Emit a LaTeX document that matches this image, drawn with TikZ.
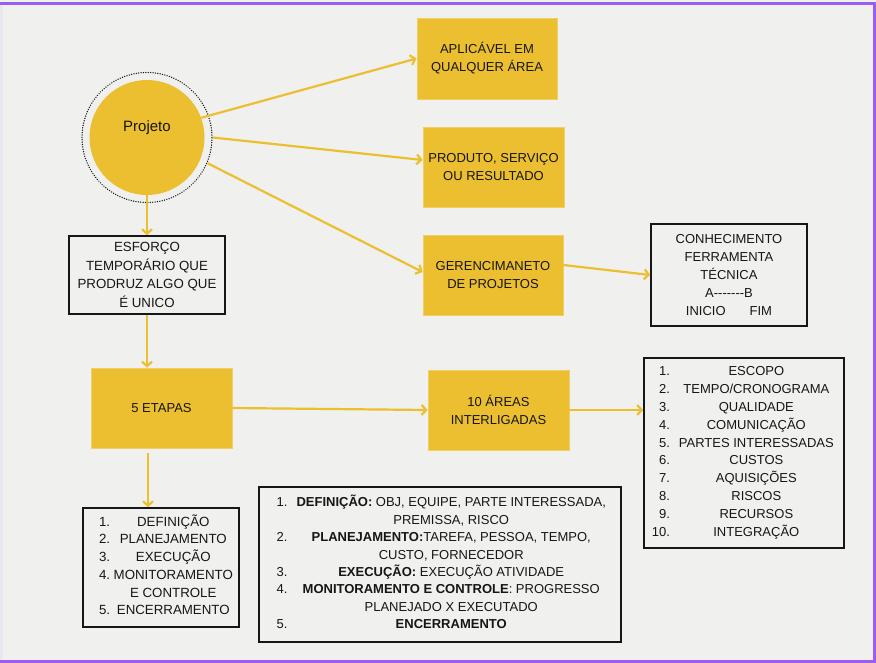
\documentclass[tikz,border=0pt]{standalone}
\usepackage{fontspec}
\setmainfont{Liberation Sans}
\usetikzlibrary{arrows.meta,calc}
\definecolor{bgc}{RGB}{240,240,238}
\definecolor{ylw}{RGB}{236,191,48}
\definecolor{purp}{HTML}{9B5DF0}
\definecolor{ink}{RGB}{22,22,22}
\definecolor{leftstrip}{RGB}{232,232,238}
\begin{document}
\begin{tikzpicture}[x=1pt,y=-1pt,
  txt/.style={font=\fontsize{13}{18}\selectfont, text=ink, align=center, inner sep=0pt},
  tnode/.style={text=ink, inner sep=0pt},
  ybox/.style={txt, fill=ylw, draw=ylw!75!white, line width=0.8pt},
  kbox/.style={draw=ink, line width=1.6pt, inner sep=0pt},
  arr/.style={draw=ylw, line width=2.2pt, -{Straight Barb[length=4.5pt,width=10pt]}}
]
\useasboundingbox (0,0) rectangle (876,663);
\fill[bgc] (0,0) rectangle (876,663);
\fill[leftstrip] (0,5) rectangle (3,660);
\draw[purp, line width=2.5pt] (0,3.5) -- (874.5,3.5) -- (874.5,661.5) -- (0,661.5);

% Projeto circle
\node[circle, draw=ink, line width=1.4pt, dash pattern=on 0.1pt off 2.3pt, line cap=round, minimum size=130pt, inner sep=0pt] (proj) at (147,137.5) {};
\node[circle, fill=ylw, minimum size=115pt, inner sep=0pt] (projfill) at (147,137.5) {};
\node[txt, font=\fontsize{15}{18}\selectfont] (projtxt) at (147,128) {Projeto};

% yellow boxes
\node[ybox, minimum width=140pt, minimum height=81pt] (apl) at (487,58.5) {APLICÁVEL EM\\QUALQUER ÁREA};
\node[ybox, minimum width=141pt, minimum height=80pt] (prod) at (493.5,167) {PRODUTO, SERVIÇO\\OU RESULTADO};
\node[ybox, minimum width=140pt, minimum height=80pt] (ger) at (493,275) {GERENCIMANETO\\DE PROJETOS};
\node[ybox, minimum width=141pt, minimum height=80pt] (areas) at (498.5,410) {10 ÁREAS\\INTERLIGADAS};
\node[ybox, minimum width=141pt, minimum height=80pt] (etapas) at (161.5,408) {5 ETAPAS};

% black boxes
\node[txt, kbox, minimum width=156pt, minimum height=78pt, font=\fontsize{13.3}{18.6}\selectfont] (esf) at (147,275) {ESFORÇO\\TEMPORÁRIO QUE\\PRODRUZ ALGO QUE\\É UNICO};
\node[txt, kbox, minimum width=156pt, minimum height=102pt, font=\fontsize{13}{17.8}\selectfont] (conh) at (729,275) {CONHECIMENTO\\FERRAMENTA\\TÉCNICA\\A{-}{-}{-}{-}{-}{-}{-}B\\INICIO\hspace{24pt}FIM};

\node[kbox, minimum width=200pt, minimum height=190pt] (list10) at (744,453) {};
\node[tnode, font=\fontsize{13}{17.8}\selectfont] (list10txt) at (742.8,452.5) {\begin{tabular}{@{}r@{\hspace{9pt}}c@{}}
1. & ESCOPO\\
2. & TEMPO/CRONOGRAMA\\
3. & QUALIDADE\\
4. & COMUNICAÇÃO\\
5. & PARTES INTERESSADAS\\
6. & CUSTOS\\
7. & AQUISIÇÕES\\
8. & RISCOS\\
9. & RECURSOS\\
10. & INTEGRAÇÃO
\end{tabular}};

\node[kbox, minimum width=156pt, minimum height=119pt] (list5) at (161,567.5) {};
\node[tnode, font=\fontsize{13.3}{17.7}\selectfont] (list5txt) at (166,567) {\begin{tabular}{@{}l@{\hspace{3.5pt}}c@{}}
1. & DEFINIÇÃO\\
2. & PLANEJAMENTO\\
3. & EXECUÇÃO\\
4. & MONITORAMENTO\\
 & E CONTROLE\\
5. & ENCERRAMENTO
\end{tabular}};

\node[kbox, minimum width=362pt, minimum height=155pt] (big) at (440,564.5) {};
\node[tnode, font=\fontsize{13}{17.4}\selectfont] (bigtxt) at (441.3,564.3) {\begin{tabular}{@{}l@{\hspace{9pt}}c@{}}
1. & \textbf{DEFINIÇÃO:} OBJ, EQUIPE, PARTE INTERESSADA,\\
 & PREMISSA, RISCO\\
2. & \textbf{PLANEJAMENTO:}TAREFA, PESSOA, TEMPO,\\
 & CUSTO, FORNECEDOR\\
3. & \textbf{EXECUÇÃO:} EXECUÇÃO ATIVIDADE\\
4. & \textbf{MONITORAMENTO E CONTROLE}: PROGRESSO\\
 & PLANEJADO X EXECUTADO\\
5. & \textbf{ENCERRAMENTO}
\end{tabular}};

% connectors
\draw[arr] (projfill.20) -- (apl.west);
\draw[arr] (proj.east) -- ([yshift=7pt]prod.west);
\draw[arr] (proj.-23) -- ([yshift=3pt]ger.west);
\draw[arr] (projfill.south) -- (esf.north);
\draw[arr] (esf.south) -- (esf.south |- etapas.north);
\draw[arr] ($(etapas.south -| esf.south)+(1,5)$) -- ($(esf.south |- list5.north)+(1,0)$);
\draw[arr] (etapas.east) -- (areas.west);
\draw[arr] (areas.east) -- (list10.west |- areas.east);
\draw[arr] ([yshift=10pt]ger.east) -- (conh.west);
\end{tikzpicture}
\end{document}
